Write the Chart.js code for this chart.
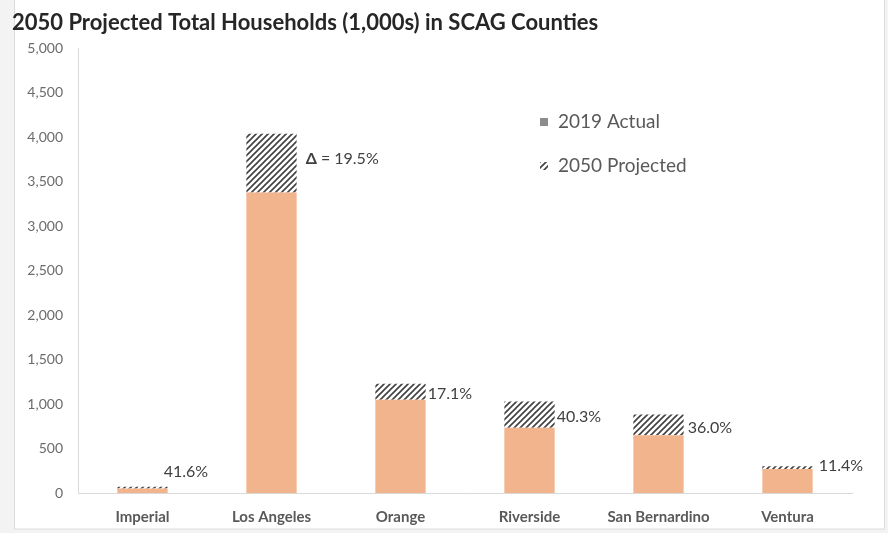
<!DOCTYPE html>
<html>
<head>
<meta charset="utf-8">
<script src="https://cdn.jsdelivr.net/npm/chart.js@4.4.1/dist/chart.umd.min.js"></script>
<style>
  html, body { margin: 0; padding: 0; background: #fff; }
  #wrap { width: 888px; height: 533px; position: relative; }
</style>
</head>
<body>
<div id="wrap"><canvas id="myChart" width="888" height="533"></canvas></div>
<script>
// data (thousands of households)
const categories = ['Imperial', 'Los Angeles', 'Orange', 'Riverside', 'San Bernardino', 'Ventura'];
const actual2019 = [50, 3380, 1050, 735, 650, 270];
const projected2050 = [71, 4040, 1230, 1030, 884, 300];
const changeLabels = ['41.6%', 'Δ = 19.5%', '17.1%', '40.3%', '36.0%', '11.4%'];
const yTicks = [0, 500, 1000, 1500, 2000, 2500, 3000, 3500, 4000, 4500, 5000];

// hatched part = growth on top of the 2019 bar
const growth = projected2050.map((v, i) => v - actual2019[i]);

const FONT = 'Lato, "Open Sans", sans-serif';
const PEACH = '#F1B48C';

// diagonal hatch for the projected part
function makeHatch() {
    const c = document.createElement('canvas');
    c.width = 6; c.height = 6;
    const g = c.getContext('2d');
    g.fillStyle = '#fff';
    g.fillRect(0, 0, 6, 6);
    g.strokeStyle = '#404040';
    g.lineWidth = 1.6;
    g.beginPath();
    g.moveTo(-1, 7); g.lineTo(7, -1);
    g.moveTo(-4, 4); g.lineTo(4, -4);
    g.moveTo(2, 10); g.lineTo(10, 2);
    g.stroke();
    return g.createPattern(c, 'repeat');
}
const hatch = makeHatch();

// label offsets next to each bar (x from bar right edge, y from projected top)
const labelDx = [-4, 9, 2, 2, 4, 6];
const labelDy = [-15, 25, 10, 15, 13, 0];

const framePlugin = {
    id: 'frame',
    beforeDraw(chart) {
        const ctx = chart.ctx;
        ctx.save();
        ctx.fillStyle = '#f3f3f3';
        ctx.fillRect(0, 0, chart.width, chart.height);
        ctx.fillStyle = '#fff';
        ctx.fillRect(14, 0, 871, 529);
        ctx.strokeStyle = '#dcdcdc';
        ctx.lineWidth = 1;
        ctx.strokeRect(14.5, -1, 870, 530);
        ctx.restore();
    }
};

const annotPlugin = {
    id: 'annot',
    afterDatasetsDraw(chart) {
        const ctx = chart.ctx;
        const meta = chart.getDatasetMeta(1);
        ctx.save();
        ctx.fillStyle = '#404040';
        ctx.textBaseline = 'middle';
        ctx.textAlign = 'left';
        meta.data.forEach((bar, i) => {
            const x = bar.x + bar.width / 2 + labelDx[i];
            const y = bar.y + labelDy[i];
            const txt = changeLabels[i];
            if (txt.startsWith('Δ')) {
                ctx.font = 'bold 16px ' + FONT;
                ctx.fillText('Δ', x, y);
                const w = ctx.measureText('Δ').width;
                ctx.font = '16px ' + FONT;
                ctx.fillText(txt.slice(1), x + w, y);
            } else {
                ctx.font = '16px ' + FONT;
                ctx.fillText(txt, x, y);
            }
        });

        // legend inside the plot
        ctx.font = '19px ' + FONT;
        const items = chart.data.datasets;
        const lx = 540, ly = [122, 166];
        ctx.fillStyle = '#8c8c8c';
        ctx.fillRect(lx, ly[0] - 4, 8, 8);
        ctx.fillStyle = hatch;
        ctx.fillRect(lx, ly[1] - 4, 8, 8);
        ctx.fillStyle = '#595959';
        ctx.fillText(items[0].label, lx + 18, ly[0]);
        ctx.fillText(items[1].label, lx + 18, ly[1]);
        ctx.restore();
    }
};

const ctx = document.getElementById('myChart').getContext('2d');
const chart = new Chart(ctx, {
    type: 'bar',
    data: {
        labels: categories,
        datasets: [
            {
                label: '2019 Actual',
                data: actual2019,
                backgroundColor: PEACH,
                categoryPercentage: 1,
                barPercentage: 0.39
            },
            {
                label: '2050 Projected',
                data: growth,
                backgroundColor: hatch,
                categoryPercentage: 1,
                barPercentage: 0.39
            }
        ]
    },
    options: {
        responsive: false,
        animation: false,
        layout: { padding: { left: 12, right: 36, top: 0, bottom: 0 } },
        plugins: {
            legend: { display: false },
            tooltip: { enabled: false },
            title: {
                display: true,
                text: '2050 Projected Total Households (1,000s) in SCAG Counties',
                align: 'start',
                color: '#262626',
                font: { family: FONT, size: 22, weight: 'bold' },
                padding: { top: 10, bottom: 12 }
            }
        },
        scales: {
            x: {
                stacked: true,
                grid: { display: false, drawTicks: false },
                border: { display: true, color: '#d9d9d9' },
                ticks: {
                    color: '#595959',
                    padding: 15,
                    font: { family: FONT, size: 15, weight: 'bold' }
                },
                afterFit: s => { s.height = 40; }
            },
            y: {
                stacked: true,
                min: 0,
                max: 5000,
                grid: { display: false, drawTicks: false },
                border: { display: true, color: '#d9d9d9' },
                afterBuildTicks: s => { s.ticks = yTicks.map(v => ({ value: v })); },
                ticks: {
                    color: '#6b6b6b',
                    padding: 15,
                    font: { family: FONT, size: 14 },
                    callback: v => v.toLocaleString('en-US')
                },
                afterFit: s => { s.width = 66; }
            }
        }
    },
    plugins: [framePlugin, annotPlugin]
});
</script>
</body>
</html>
